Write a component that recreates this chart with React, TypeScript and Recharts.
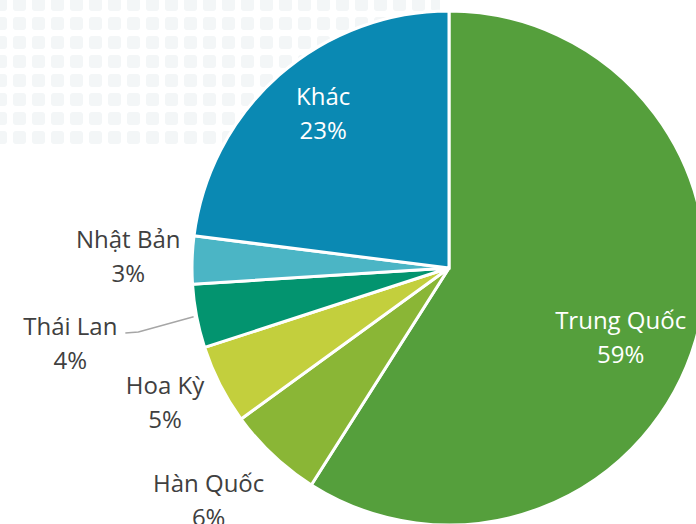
import React from 'react';
import { PieChart, Pie, Cell } from 'recharts';

const COUNTRIES = ['Trung Quốc', 'Hàn Quốc', 'Hoa Kỳ', 'Thái Lan', 'Nhật Bản', 'Khác'];
const SHARES = [59, 6, 5, 4, 3, 23];

const COLORS = ['#559F3C', '#8AB636', '#C3CF3D', '#03946F', '#4BB5C5', '#0A89B3'];
// label distance from centre (fraction of the radius) and angle nudge from the slice middle
const LABEL_RADIUS = [0.72, 1.3, 1.222, 1.502, 1.249, 0.778];
const LABEL_SHIFT = [-5.7, -2.8, -1.7, 0.4, -0.3, -2.4];
const LABEL_INSIDE = [true, false, false, false, false, true];
const LEADER = [false, false, false, true, false, false];

const data = COUNTRIES.map((name, i) => ({ name, value: SHARES[i] }));

const RAD = Math.PI / 180;

function renderLabel(props: any) {
  const { cx, cy, midAngle, outerRadius, index, name, value } = props;
  const r = outerRadius * LABEL_RADIUS[index];
  const a = midAngle + LABEL_SHIFT[index];
  const x = cx + r * Math.cos(-a * RAD);
  const y = cy + r * Math.sin(-a * RAD);
  const fill = LABEL_INSIDE[index] ? '#FFFFFF' : '#404040';
  const lines = [];
  if (LEADER[index]) {
    const sx = cx + (outerRadius + 3) * Math.cos(-midAngle * RAD);
    const sy = cy + (outerRadius + 3) * Math.sin(-midAngle * RAD);
    const ex = x + 68;
    const ey = y - 11;
    lines.push(
      <polyline
        key="l"
        points={`${sx},${sy} ${ex},${ey} ${ex - 13},${ey + 1}`}
        fill="none"
        stroke="#A6A6A6"
        strokeWidth={1.5}
      />
    );
  }
  return (
    <g>
      {lines}
      <text x={x} y={y} textAnchor="middle" fill={fill} fontSize={24} fontFamily="'Open Sans', sans-serif">
        <tspan x={x} dy={-8}>{name}</tspan>
        <tspan x={x} dy={34}>{value}%</tspan>
      </text>
    </g>
  );
}

export default function App() {
  return (
    <div style={{ position: 'fixed', left: 0, top: 0, width: 696, height: 524, background: '#FFFFFF', overflow: 'hidden' }}>
      <svg width={696} height={524} style={{ position: 'absolute', left: 0, top: 0 }}>
        <defs>
          <pattern id="dots" x={-8} y={-4} width={19} height={19} patternUnits="userSpaceOnUse">
            <rect x={2} y={2} width={13} height={13} rx={3} fill="#F3F6F7" />
          </pattern>
        </defs>
        <rect x={0} y={0} width={440} height={150} fill="url(#dots)" />
      </svg>
      <div style={{ position: 'absolute', left: 0, top: 0 }}>
        <PieChart width={696} height={524}>
          <Pie
            data={data}
            dataKey="value"
            nameKey="name"
            cx={444}
            cy={263}
            outerRadius={257}
            startAngle={90}
            endAngle={-270}
            stroke="#FFFFFF"
            strokeWidth={3}
            label={renderLabel}
            labelLine={false}
            isAnimationActive={false}
          >
            {data.map((d, i) => (
              <Cell key={d.name} fill={COLORS[i]} />
            ))}
          </Pie>
        </PieChart>
      </div>
    </div>
  );
}
